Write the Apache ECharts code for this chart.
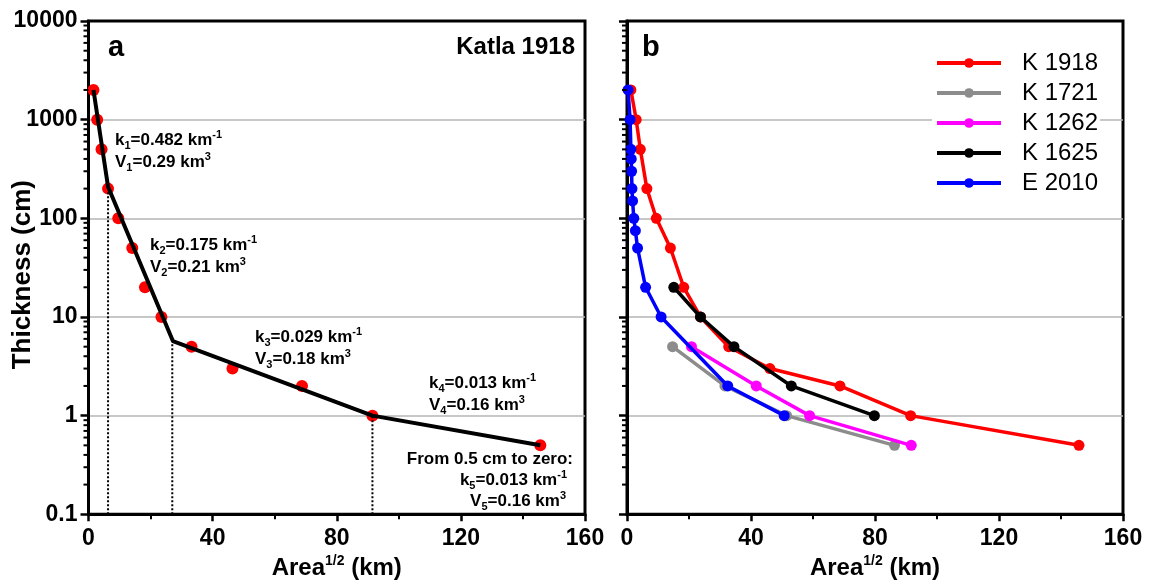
<!DOCTYPE html>
<html><head><meta charset="utf-8">
<script src="https://cdn.jsdelivr.net/npm/echarts@6/dist/echarts.min.js"></script>
<style>html,body{margin:0;padding:0;background:#fff}#c{width:1149px;height:583px}</style>
</head><body><div id="c"></div>
<script>
// ---- Panel a: Katla 1918 ----
const A_X = [1.6, 2.8, 4.2, 6.3, 9.6, 14.1, 18.2, 23.5, 33.2, 46.4, 68.8, 91.5, 145.6];
const A_Y = [2000, 1000, 500, 200, 100, 50, 20, 10, 5, 3, 2, 1, 0.5];
const FIT_X = [1.6, 6.3, 27.2, 91.5, 145.6];
const FIT_Y = [2000, 209, 5.7, 1, 0.5];
const BREAK_X = [6.3, 27.0, 91.5];
const BREAK_Y = [209, 5.8, 1];
// ---- Panel b ----
const SERIES_NAMES = ['K 1918', 'K 1721', 'K 1262', 'K 1625', 'E 2010'];
const SERIES_COLORS = ['#ff0000', '#8c8c8c', '#ff00ff', '#000000', '#0000ff'];
const K1918_X = [1.25, 2.96, 4.3, 6.4, 9.45, 14.0, 18.3, 23.7, 32.8, 46.1, 68.7, 91.5, 145.8];
const K1918_Y = [2000, 1000, 500, 200, 100, 50, 20, 10, 5, 3, 2, 1, 0.5];
const K1721_X = [14.7, 31.6, 51.5, 86.3];
const K1721_Y = [5, 2, 1, 0.5];
const K1262_X = [20.8, 41.7, 58.9, 91.7];
const K1262_Y = [5, 2, 1, 0.5];
const K1625_X = [15.1, 23.7, 34.5, 53.0, 79.8];
const K1625_Y = [20, 10, 5, 2, 1];
const E2010_X = [0.34, 1.0, 1.25, 1.37, 1.48, 1.6, 1.8, 2.2, 2.7, 3.4, 6.0, 11.0, 32.5, 50.7];
const E2010_Y = [2000, 1000, 500, 400, 300, 200, 150, 100, 75, 50, 20, 10, 2, 1];
// ---- axis ticks ----
const X_TICKS = [0, 40, 80, 120, 160];
const Y_DECADES = [0.1, 1, 10, 100, 1000, 10000];
const MINOR_MULT = [2, 3, 4, 5, 6, 7, 8, 9];

const FF = '"Liberation Sans", Arial, Helvetica, sans-serif';
const zip = (xs, ys) => xs.map((x, i) => [x, ys[i]]);
const MINOR_Y = [];
Y_DECADES.slice(0, -1).forEach(d => MINOR_MULT.forEach(m => MINOR_Y.push(+(d * m).toPrecision(3))));

const chart = echarts.init(document.getElementById('c'), null, {renderer: 'canvas'});

function xAxisCfg(gi) {
  return {
    gridIndex: gi, type: 'value', min: X_TICKS[0], max: X_TICKS[X_TICKS.length - 1], interval: 40,
    name: '{m|Area}{p|1/2}{m| (km)}', nameLocation: 'middle', nameGap: 40, nameMoveOverlap: false,
    nameTextStyle: {rich: {
      m: {fontSize: 24, fontWeight: 'bold', fontFamily: FF, color: '#000', lineHeight: 28},
      p: {fontSize: 14, fontWeight: 'bold', fontFamily: FF, color: '#000', lineHeight: 14, verticalAlign: 'top'}
    }},
    axisLine: {show: true, lineStyle: {color: '#000', width: 3}},
    axisTick: {show: true, length: 7, lineStyle: {color: '#000', width: 2.5}},
    minorTick: {show: true, splitNumber: 2, length: 5, lineStyle: {color: '#000', width: 2}},
    axisLabel: {show: true, margin: 12, fontSize: 23, fontWeight: 'bold', fontFamily: FF, color: '#000', lineHeight: 24},
    splitLine: {show: false}
  };
}
function yAxisCfg(gi, showLabel) {
  const c = {
    gridIndex: gi, type: 'log', logBase: 10, min: Y_DECADES[0], max: Y_DECADES[Y_DECADES.length - 1], splitNumber: 5,
    axisLine: {show: true, lineStyle: {color: '#000', width: 3}},
    axisTick: {show: true, length: 8, lineStyle: {color: '#000', width: 2.5}},
    axisLabel: {show: showLabel, margin: 11, fontSize: 23, fontWeight: 'bold', fontFamily: FF, color: '#000',
      formatter: v => v >= 1 ? String(Math.round(v)) : String(+v.toFixed(1))},
    splitLine: {show: true, showMinLine: false, showMaxLine: false, lineStyle: {color: '#b4b4b4', width: 1.5}}
  };
  if (showLabel) {
    c.name = 'Thickness (cm)';
    c.nameLocation = 'middle';
    c.nameGap = 51;
    c.nameMoveOverlap = false;
    c.nameTextStyle = {fontSize: 26, fontWeight: 'bold', fontFamily: FF, color: '#000', lineHeight: 30, padding: [0, 14, 0, 0]};
  }
  return c;
}
function minorTickSeries(gi) {
  return {
    type: 'custom', xAxisIndex: gi, yAxisIndex: gi, silent: true, clip: false, z: 10,
    data: MINOR_Y.map(v => [X_TICKS[0], v]),
    renderItem: (params, api) => {
      const p = api.coord([api.value(0), api.value(1)]);
      return {type: 'line', shape: {x1: p[0] - 5, y1: p[1], x2: p[0], y2: p[1]},
        style: {stroke: '#000', lineWidth: 2}};
    }
  };
}

const RICH = {
  m: {fontSize: 17, fontWeight: 'bold', fontFamily: FF, fill: '#000', lineHeight: 22},
  s: {fontSize: 11, fontWeight: 'bold', fontFamily: FF, fill: '#000', lineHeight: 11, verticalAlign: 'bottom'},
  p: {fontSize: 11, fontWeight: 'bold', fontFamily: FF, fill: '#000', lineHeight: 14, verticalAlign: 'top'}
};
function kText(i, val) { return '{m|k}{s|' + i + '}{m|=' + val + ' km}{p|-1}'; }
function vText(i, val) { return '{m|V}{s|' + i + '}{m|=' + val + ' km}{p|3}'; }
function rt(x, y, text, align) {
  return {type: 'text', x: x, y: y, z: 100,
    style: {text: text, rich: RICH, align: align || 'left', verticalAlign: 'middle', fill: '#000',
      fontSize: 17, fontWeight: 'bold', fontFamily: FF}};
}
function plain(x, y, text, size, align, weight) {
  return {type: 'text', x: x, y: y, z: 100,
    style: {text: text, align: align || 'left', verticalAlign: 'middle', fill: '#000',
      fontSize: size, fontWeight: weight || 'bold', fontFamily: FF}};
}

const bData = [zip(K1918_X, K1918_Y), zip(K1721_X, K1721_Y), zip(K1262_X, K1262_Y), zip(K1625_X, K1625_Y), zip(E2010_X, E2010_Y)];

const series = [
  {type: 'scatter', xAxisIndex: 0, yAxisIndex: 0, data: zip(A_X, A_Y), symbol: 'circle', symbolSize: 12,
    itemStyle: {color: '#ff0000', opacity: 1}, z: 2},
  {type: 'line', xAxisIndex: 0, yAxisIndex: 0, data: zip(FIT_X, FIT_Y), symbol: 'none',
    lineStyle: {color: '#000', width: 4}, z: 4}
];
BREAK_X.forEach((bx, i) => {
  series.push({type: 'line', xAxisIndex: 0, yAxisIndex: 0, data: [[bx, Y_DECADES[0]], [bx, BREAK_Y[i]]], symbol: 'none',
    lineStyle: {color: '#000', width: 2, type: [2, 2]}, z: 3});
});
SERIES_NAMES.forEach((n, i) => {
  series.push({type: 'line', name: n, xAxisIndex: 1, yAxisIndex: 1, data: bData[i], symbol: 'circle', symbolSize: 11,
    showSymbol: true, lineStyle: {color: SERIES_COLORS[i], width: 3.5}, itemStyle: {color: SERIES_COLORS[i], opacity: 1}, z: 3 + i});
});
series.push(minorTickSeries(0), minorTickSeries(1));

chart.setOption({
  animation: false,
  backgroundColor: '#fff',
  grid: [
    {left: 88.5, right: 564, top: 21, bottom: 68.7, show: true, borderColor: '#000', borderWidth: 3, backgroundColor: 'transparent', containLabel: false, outerBoundsMode: 'none'},
    {left: 627, right: 26, top: 21, bottom: 68.7, show: true, borderColor: '#000', borderWidth: 3, backgroundColor: 'transparent', containLabel: false, outerBoundsMode: 'none'}
  ],
  xAxis: [xAxisCfg(0), xAxisCfg(1)],
  yAxis: [yAxisCfg(0, true), yAxisCfg(1, false)],
  legend: {
    data: SERIES_NAMES, orient: 'vertical', left: 932, top: 49, itemWidth: 64, itemHeight: 12, itemGap: 6,
    backgroundColor: '#fff', padding: [2, 2, 2, 3], selectedMode: false,
    lineStyle: {width: 4},
    textStyle: {fontSize: 24, fontFamily: FF, color: '#000', lineHeight: 24, padding: [0, 0, 0, 16]}
  },
  graphic: [
    plain(108, 48, 'a', 29, 'left'),
    plain(575, 47, 'Katla 1918', 24, 'right'),
    plain(642, 48, 'b', 29, 'left'),
    rt(115, 140, kText(1, '0.482')), rt(115, 162, vText(1, '0.29')),
    rt(150, 245, kText(2, '0.175')), rt(150, 267, vText(2, '0.21')),
    rt(255, 337, kText(3, '0.029')), rt(255, 359, vText(3, '0.18')),
    rt(429, 383, kText(4, '0.013')), rt(429, 405, vText(4, '0.16')),
    plain(573, 459, 'From 0.5 cm to zero:', 17, 'right'),
    rt(567, 480, kText(5, '0.013'), 'right'),
    rt(566, 501, vText(5, '0.16'), 'right')
  ],
  series: series
});
</script></body></html>
